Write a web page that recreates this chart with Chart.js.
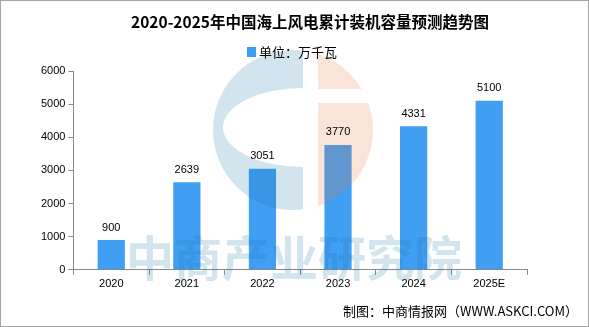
<!DOCTYPE html>
<html>
<head>
<meta charset="utf-8">
<script src="https://cdn.jsdelivr.net/npm/chart.js@4.4.0/dist/chart.umd.min.js"></script>
<style>
  html, body { margin: 0; padding: 0; background: #fff; }
  #wrap { width: 589px; height: 327px; position: relative; }
</style>
</head>
<body>
<div id="wrap"><canvas id="myChart" width="589" height="327"></canvas></div>
<script>
// data
const years = ['2020', '2021', '2022', '2023', '2024', '2025E'];
const capacity = [900, 2639, 3051, 3770, 4331, 5100];
const yTicks = [0, 1000, 2000, 3000, 4000, 5000, 6000];
const unitLabel = '单位：万千瓦';
const titleText = '2020-2025年中国海上风电累计装机容量预测趋势图';

const barColor = '#409ef3';
const cjk = '"Noto Sans CJK SC", sans-serif';
const num = '"Liberation Sans", Arial, sans-serif';

// title, legend, frame, footer
const framePlugin = {
  id: 'frame',
  afterDraw(chart) {
    const ctx = chart.ctx;
    ctx.save();
    ctx.strokeStyle = '#a6a6a6';
    ctx.lineWidth = 1;
    ctx.strokeRect(0.5, 0.5, chart.width - 1, chart.height - 1);

    ctx.fillStyle = '#000';
    ctx.textBaseline = 'middle';
    ctx.font = 'bold 15.5px ' + cjk;
    ctx.textAlign = 'center';
    ctx.fillText(titleText, 310, 22);

    // legend
    ctx.fillStyle = barColor;
    ctx.fillRect(247, 47, 9, 10);
    ctx.fillStyle = '#000';
    ctx.font = '13px ' + cjk;
    ctx.textAlign = 'left';
    ctx.fillText(unitLabel, 259, 52);

    ctx.font = '13px ' + cjk;
    ctx.textAlign = 'right';
    ctx.fillText('制图：中商情报网（WWW.ASKCI.COM）', 578, 311);
    ctx.restore();
  }
};

// faint logo + watermark on top of the bars
const watermarkPlugin = {
  id: 'watermark',
  afterDatasetsDraw(chart) {
    const ctx = chart.ctx;
    const cx = 293, cy = 130, r = 80;
    ctx.save();
    // blue half
    ctx.save();
    ctx.beginPath();
    ctx.rect(0, 0, 303, chart.height);
    ctx.clip();
    ctx.beginPath();
    ctx.arc(cx, cy, r, 0, Math.PI * 2);
    ctx.ellipse(303, 127.5, 80, 39.5, 0, 0, Math.PI * 2);
    ctx.fillStyle = 'rgba(30,120,170,0.2)';
    ctx.fill('evenodd');
    ctx.restore();
    // pink half
    ctx.save();
    ctx.beginPath();
    ctx.rect(318, 0, 200, 89);
    ctx.rect(318, 103, 200, 200);
    ctx.clip();
    ctx.beginPath();
    ctx.arc(cx, cy, r, 0, Math.PI * 2);
    ctx.fillStyle = 'rgba(231,119,66,0.2)';
    ctx.fill();
    ctx.restore();
    // text
    ctx.font = 'bold 48px ' + cjk;
    ctx.fillStyle = 'rgba(30,120,170,0.2)';
    ctx.textAlign = 'center';
    ctx.textBaseline = 'middle';
    ctx.fillText('中商产业研究院', 294, 258);
    ctx.restore();
  },
  afterDraw(chart) {
    // value labels
    const ctx = chart.ctx;
    const meta = chart.getDatasetMeta(0);
    ctx.save();
    ctx.fillStyle = '#000';
    ctx.font = '11px ' + num;
    ctx.textAlign = 'center';
    ctx.textBaseline = 'bottom';
    meta.data.forEach((bar, i) => {
      ctx.fillText(String(capacity[i]), bar.x, bar.y - 7);
    });
    ctx.restore();
  }
};

const data = {
  labels: years,
  datasets: [{
    label: unitLabel,
    data: capacity,
    backgroundColor: barColor,
    borderWidth: 0,
    barPercentage: 0.36,
    categoryPercentage: 1
  }]
};

const config = {
  type: 'bar',
  data,
  options: {
    responsive: false,
    animation: false,
    layout: { padding: { left: 38, right: 62, top: 71, bottom: 33 } },
    plugins: {
      title: { display: false },
      legend: { display: false },
      tooltip: { enabled: false }
    },
    scales: {
      x: {
        grid: { display: true, drawOnChartArea: false, drawTicks: true, tickLength: 5, color: '#888', offset: true },
        border: { color: '#888' },
        ticks: { color: '#000', font: { family: num, size: 11 }, padding: 3 }
      },
      y: {
        min: 0,
        max: 6000,
        afterBuildTicks(axis) { axis.ticks = yTicks.map(v => ({ value: v })); },
        grid: { display: true, drawOnChartArea: false, drawTicks: true, tickLength: 5, color: '#888' },
        border: { color: '#888' },
        ticks: { color: '#000', font: { family: num, size: 11 }, padding: 3, callback: v => String(v) }
      }
    }
  },
  plugins: [watermarkPlugin, framePlugin]
};

var myChart = new Chart(document.getElementById('myChart'), config);
</script>
</body>
</html>
